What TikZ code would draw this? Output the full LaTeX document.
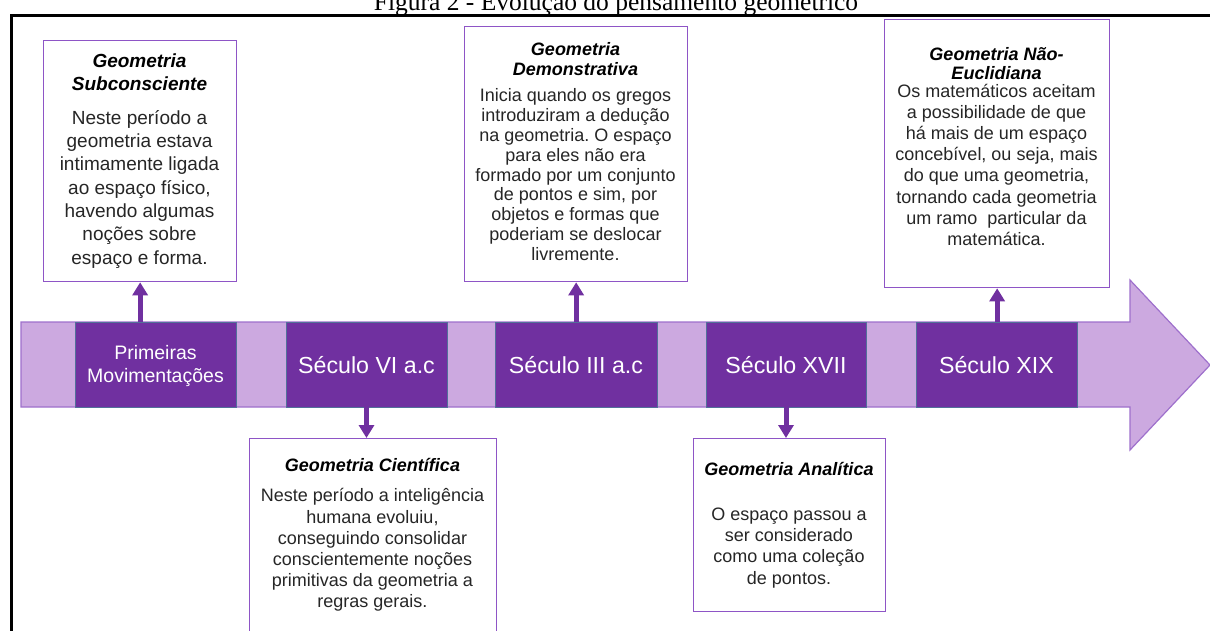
\documentclass[tikz,border=0pt]{standalone}
\usepackage{fontspec}
\setmainfont{Liberation Serif}
\newfontfamily\arialfont{Liberation Sans}
\usetikzlibrary{arrows.meta}
\frenchspacing
\definecolor{dpurple}{HTML}{7030A0}
\definecolor{lpurple}{HTML}{CCA9E0}
\definecolor{bordpurple}{HTML}{9E70CC}
\definecolor{boxborder}{HTML}{8E55C6}
\definecolor{segedge}{HTML}{52709A}
\definecolor{bodytext}{HTML}{262626}
\begin{document}
\begin{tikzpicture}[x=1pt,y=-1pt,
  seg/.style={draw=segedge, line width=0.8pt, fill=dpurple, text=white,
    minimum width=161pt, minimum height=85pt, inner sep=0pt},
  segtxt/.style={seg, font=\arialfont\fontsize{23.2}{27}\selectfont, text height=17pt, text depth=0pt},
  gbox/.style={draw=boxborder, line width=1.3pt, fill=white, inner sep=0pt, anchor=north west},
  conn/.style={draw=dpurple, line width=5pt, -{Triangle[width=15pt,length=13pt]}},
  head/.style={align=center, inner sep=0pt, text=black, anchor=north},
  bodytxt/.style={align=center, inner sep=0pt, text=bodytext, anchor=north},
]
\useasboundingbox (0,0) rectangle (1210,630);
\clip (0,0) rectangle (1210,630);

% title and frame
\node[anchor=base, font=\fontsize{25.5}{30}\selectfont, inner sep=0pt] (title) at (616,10) {Figura 2 - Evolução do pensamento geométrico};
\draw[line width=3pt] (11,640) -- (11,15.3) -- (1215,15.3);

% timeline arrow
\draw[draw=bordpurple, fill=lpurple, line width=1.2pt] (21,322) -- (1130,322) -- (1130,280) -- (1210,365) -- (1130,450) -- (1130,407) -- (21,407) -- cycle;

\node[seg, align=center, font=\arialfont\fontsize{19.5}{23}\selectfont] (s1) at (155.5,364.5) {\rule{0pt}{18pt}Primeiras\\Movimentações};
\node[segtxt] (s2) at (366.5,364.5) {Século VI a.c};
\node[segtxt, minimum width=162pt] (s3) at (576,364.5) {Século III a.c};
\node[segtxt, minimum width=160pt] (s4) at (786,364.5) {Século XVII};
\node[segtxt] (s5) at (996.5,364.5) {Século XIX};

% boxes
\node[gbox, minimum width=193pt, minimum height=241pt] (b1) at (43,40) {};
\node[gbox, minimum width=223pt, minimum height=255pt] (b2) at (464,26) {};
\node[gbox, minimum width=225pt, minimum height=268pt] (b3) at (884,19) {};
\node[gbox, minimum width=247pt, minimum height=205pt] (c1) at (249,438) {};
\node[gbox, minimum width=192pt, minimum height=173pt] (c2) at (693,438) {};

% box 1
\node[head, font=\arialfont\fontsize{19}{23.3}\selectfont\bfseries\itshape] (h1) at (139.5,50.7) {\strut Geometria\\Subconsciente};
\node[bodytxt, font=\arialfont\fontsize{19}{23.3}\selectfont] (t1) at (139.5,107.7) {\strut Neste período a\\geometria estava\\intimamente ligada\\ao espaço físico,\\havendo algumas\\noções sobre\\espaço e forma.};

% box 2
\node[head, font=\arialfont\fontsize{18}{19.5}\selectfont\bfseries\itshape] (h2) at (575.5,42) {\strut Geometria\\Demonstrativa};
\node[bodytxt, font=\arialfont\fontsize{18}{19.8}\selectfont] (t2) at (575.5,87.8) {\strut Inicia quando os gregos\\introduziram a dedução\\na geometria. O espaço\\para eles não era\\formado por um conjunto\\de pontos e sim, por\\objetos e formas que\\poderiam se deslocar\\livremente.};

% box 3
\node[head, font=\arialfont\fontsize{18}{19.5}\selectfont\bfseries\itshape] (h3) at (996.5,46.2) {\strut Geometria Não-\\Euclidiana};
\node[bodytxt, font=\arialfont\fontsize{18}{21.2}\selectfont] (t3) at (996.5,82) {\strut Os matemáticos aceitam\\a possibilidade de que\\há mais de um espaço\\concebível, ou seja, mais\\do que uma geometria,\\tornando cada geometria\\um ramo\ \ particular da\\matemática.};

% box 4
\node[anchor=base, inner sep=0pt, font=\arialfont\fontsize{18}{21}\selectfont\bfseries\itshape] (h4) at (372.5,471.7) {Geometria Científica};
\node[bodytxt, font=\arialfont\fontsize{18}{21.2}\selectfont] (t4) at (372.5,486.9) {\strut Neste período a inteligência\\humana evoluiu,\\conseguindo consolidar\\conscientemente noções\\primitivas da geometria a\\regras gerais.};

% box 5
\node[anchor=base, inner sep=0pt, font=\arialfont\fontsize{18}{21}\selectfont\bfseries\itshape] (h5) at (789,475) {Geometria Analítica};
\node[bodytxt, font=\arialfont\fontsize{18}{21.3}\selectfont] (t5) at (789,505) {\strut O espaço passou a\\ser considerado\\como uma coleção\\de pontos.};

% connectors
\draw[conn] (b1.south |- s1.north) -- (b1.south);
\draw[conn] (b2.south |- s3.north) -- (b2.south);
\draw[conn] (b3.south |- s5.north) -- (b3.south);
\draw[conn] (s2.south) -- (s2.south |- c1.north);
\draw[conn] (s4.south) -- (s4.south |- c2.north);
\end{tikzpicture}
\end{document}
